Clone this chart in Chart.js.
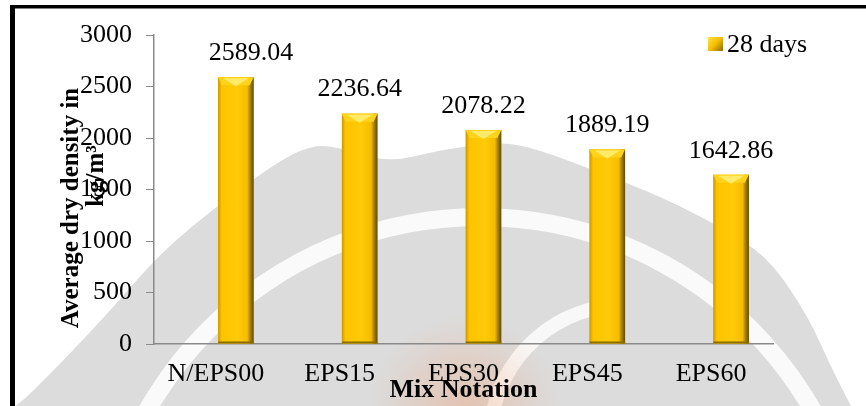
<!DOCTYPE html>
<html>
<head>
<meta charset="utf-8">
<script src="https://cdn.jsdelivr.net/npm/chart.js@4/dist/chart.umd.min.js"></script>
<style>
html, body { margin: 0; padding: 0; background: #fff; }
#wrap { width: 866px; height: 406px; position: relative; }
</style>
</head>
<body>
<div id="wrap"><canvas id="density-chart"></canvas></div>
<script>
var mixLabels = ['N/EPS00', 'EPS15', 'EPS30', 'EPS45', 'EPS60'];
var density28 = [2589.04, 2236.64, 2078.22, 1889.19, 1642.86];
var yTicks = [0, 500, 1000, 1500, 2000, 2500, 3000];
var seriesName = '28 days';
var yTitle = ['Average dry density in', 'kg/m\u00b3'];
var xTitle = 'Mix Notation';

var serif = '"Liberation Serif", "Times New Roman", serif';

function smoothPath(ctx, pts) {
    ctx.moveTo(pts[0][0], pts[0][1]);
    for (var i = 1; i < pts.length - 1; i++) {
        var xc = (pts[i][0] + pts[i + 1][0]) / 2, yc = (pts[i][1] + pts[i + 1][1]) / 2;
        ctx.quadraticCurveTo(pts[i][0], pts[i][1], xc, yc);
    }
    var last = pts[pts.length - 1];
    ctx.lineTo(last[0], last[1]);
}

// grey logo watermark behind the plot
var watermark = {
    id: 'watermark',
    beforeDraw: function (chart) {
        var ctx = chart.ctx;
        ctx.save();
        ctx.fillStyle = '#fff';
        ctx.fillRect(0, 0, chart.width, chart.height);
        ctx.beginPath();
        smoothPath(ctx, [[15, 406], [22, 403], [105, 317], [160, 253], [221, 203], [276, 163], [309, 146],
            [335, 146], [387, 163], [440, 150], [497, 142], [530, 147], [575, 163], [663, 197],
            [735, 235], [773, 263], [810, 320], [829, 363], [851, 406]]);
        ctx.closePath();
        ctx.fillStyle = '#dcdcdc';
        ctx.fill();
        // white ring
        ctx.beginPath();
        ctx.arc(480, 600, 383, Math.PI * 1.06, Math.PI * 1.97);
        ctx.strokeStyle = 'rgba(255,255,255,0.85)';
        ctx.lineWidth = 18;
        ctx.stroke();
        // inner crescent
        ctx.beginPath();
        ctx.arc(625, 440, 135, Math.PI * 1.04, Math.PI * 1.5);
        ctx.strokeStyle = 'rgba(255,255,255,0.8)';
        ctx.lineWidth = 14;
        ctx.stroke();
        // faint orange glow near the bottom
        var g = ctx.createRadialGradient(465, 410, 5, 465, 410, 95);
        g.addColorStop(0, 'rgba(240,150,100,0.35)');
        g.addColorStop(1, 'rgba(240,150,100,0)');
        ctx.fillStyle = g;
        ctx.fillRect(360, 300, 220, 106);
        ctx.restore();
    }
};

// bevelled gold bars, value labels, legend, titles, frame
var decor = {
    id: 'decor',
    afterDatasetsDraw: function (chart) {
        var ctx = chart.ctx;
        var meta = chart.getDatasetMeta(1);
        ctx.save();
        meta.data.forEach(function (bar, i) {
            var p = bar.getProps(['x', 'y', 'width', 'base'], true);
            var l = p.x - p.width / 2, r = p.x + p.width / 2, t = p.y, b = p.base, w = p.width;
            var g = ctx.createLinearGradient(l, 0, r, 0);
            g.addColorStop(0, '#C99800');
            g.addColorStop(0.1, '#FFC300');
            g.addColorStop(0.55, '#FFCA08');
            g.addColorStop(0.82, '#F5BC00');
            g.addColorStop(0.9, '#A88300');
            g.addColorStop(1, '#5E4A0A');
            ctx.fillStyle = g;
            ctx.fillRect(l, t, w, b - t);
            // top bevel
            ctx.beginPath();
            ctx.moveTo(l, t); ctx.lineTo(r, t); ctx.lineTo(r - 4, t + 8); ctx.lineTo(l + 4, t + 8);
            ctx.closePath();
            ctx.fillStyle = '#FFD21C';
            ctx.fill();
            ctx.beginPath();
            ctx.moveTo(l + 5, t + 1); ctx.lineTo(r - 5, t + 1); ctx.lineTo(p.x, t + 9);
            ctx.closePath();
            ctx.fillStyle = '#FFEA6A';
            ctx.fill();
            ctx.fillStyle = '#8A6D00';
            ctx.fillRect(l, b - 2, w, 2);

            // value label (first one was nudged right in the original)
            ctx.fillStyle = '#000';
            ctx.font = '26px ' + serif;
            ctx.textAlign = 'center';
            ctx.textBaseline = 'middle';
            ctx.fillText(density28[i].toFixed(2), p.x + (i === 0 ? 15 : 0), t - 24);
        });
        ctx.restore();
    },
    afterDraw: function (chart) {
        var ctx = chart.ctx;
        var area = chart.chartArea;
        ctx.save();
        // legend
        var g = ctx.createLinearGradient(708, 37, 723, 51);
        g.addColorStop(0, '#FFE34A');
        g.addColorStop(0.5, '#F5BE00');
        g.addColorStop(1, '#8C6A00');
        ctx.fillStyle = g;
        ctx.fillRect(708, 37, 15, 14);
        ctx.fillStyle = '#000';
        ctx.font = '26px ' + serif;
        ctx.textAlign = 'left';
        ctx.textBaseline = 'middle';
        ctx.fillText(seriesName, 727, 45);

        // axis titles
        ctx.font = 'bold 25px ' + serif;
        ctx.textAlign = 'center';
        ctx.save();
        ctx.translate(72, 208);
        ctx.rotate(-Math.PI / 2);
        ctx.fillText(yTitle[0], 0, 0);
        ctx.restore();
        ctx.save();
        ctx.translate(97, 176);
        ctx.rotate(-Math.PI / 2);
        ctx.fillText(yTitle[1], 0, 0);
        ctx.restore();
        ctx.font = 'bold 26px ' + serif;
        ctx.fillText(xTitle, (area.left + area.right) / 2, 390);

        // black frame at left and top
        ctx.fillStyle = '#000';
        ctx.fillRect(10, 5, 5, chart.height - 5);
        ctx.fillRect(10, 5, chart.width - 10, 3.5);
        ctx.restore();
    }
};

var ctx = document.getElementById('density-chart').getContext('2d');
new Chart(ctx, {
    type: 'bar',
    data: {
        labels: mixLabels,
        datasets: [
            { label: '', data: mixLabels.map(function () { return null; }) },
            { label: seriesName, data: density28, backgroundColor: '#FFC000', borderWidth: 0 }
        ]
    },
    options: {
        responsive: true,
        maintainAspectRatio: false,
        animation: false,
        categoryPercentage: 0.646,
        barPercentage: 0.89,
        layout: { padding: { left: 0, top: 35, right: 93, bottom: 0 } },
        plugins: { legend: { display: false }, tooltip: { enabled: false } },
        scales: {
            x: {
                afterFit: function (s) { s.height = 62; },
                grid: { drawOnChartArea: false, drawTicks: false },
                border: { color: '#8a8a8a', width: 1.5 },
                ticks: { color: '#000', padding: 15, font: { family: serif, size: 26 } }
            },
            y: {
                min: 0,
                max: 3000,
                afterFit: function (s) { s.width = 154; },
                afterBuildTicks: function (s) { s.ticks = yTicks.map(function (v) { return { value: v }; }); },
                grid: { drawOnChartArea: false, tickLength: 8, color: '#8a8a8a' },
                border: { color: '#8a8a8a', width: 1.5 },
                ticks: {
                    color: '#000', padding: 14, font: { family: serif, size: 26 },
                    callback: function (v) { return String(v); }
                }
            }
        }
    },
    plugins: [watermark, decor]
});
</script>
</body>
</html>
